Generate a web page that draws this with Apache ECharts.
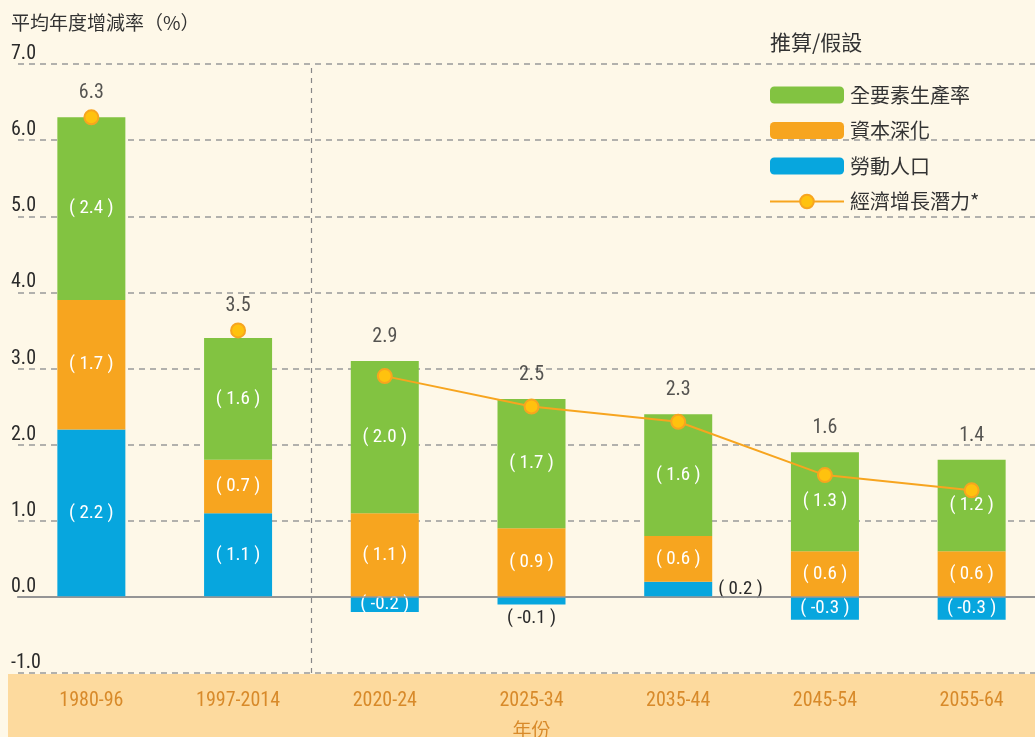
<!DOCTYPE html>
<html>
<head>
<meta charset="utf-8">
<script src="https://cdn.jsdelivr.net/npm/echarts@6/dist/echarts.min.js"></script>
<style>
  html, body { margin: 0; padding: 0; background: #fef8e8; }
  #chart { width: 1035px; height: 737px; }
</style>
</head>
<body>
<div id="chart"></div>
<script>
const periods = ['1980-96', '1997-2014', '2020-24', '2025-34', '2035-44', '2045-54', '2055-64']
const labour = [2.2, 1.1, -0.2, -0.1, 0.2, -0.3, -0.3]
const capital = [1.7, 0.7, 1.1, 0.9, 0.6, 0.6, 0.6]
const tfp = [2.4, 1.6, 2.0, 1.7, 1.6, 1.3, 1.2]
const potential = [6.3, 3.5, 2.9, 2.5, 2.3, 1.6, 1.4]
const firstProjected = 2 // 推算/假設 starts from 2020-24

const FONT = "'Roboto Condensed', 'Liberation Sans Narrow', 'DejaVu Sans Condensed', 'Noto Sans CJK TC', sans-serif"
const CJK = "'Noto Sans CJK TC', sans-serif"
const GREEN = '#82c341'
const ORANGE = '#f7a51f'
const BLUE = '#07a6de'
const DARK = '#2a2a2a'

const wrap = v => `( ${v.toFixed(1)} )`

// totals are written above the higher of the stack top and the dot
const labelAnchor = periods.map((_, i) =>
  Math.max(tfp[i] + capital[i] + Math.max(labour[i], 0), potential[i]))

const barLabel = {
  show: true,
  position: 'inside',
  color: '#fff',
  fontFamily: FONT,
  fontSize: 19,
  formatter: p => wrap(p.value)
}

// labour labels: a few sit outside the bar
const labourData = labour.map(v => {
  if (v === -0.1) return { value: v, label: { position: 'bottom', color: DARK, distance: 4 } }
  if (v > 0 && v < 0.5) return { value: v, label: { position: 'right', color: DARK, distance: 6 } }
  return v
})

const dot = {
  symbol: 'circle',
  symbolSize: 14,
  itemStyle: { color: '#ffc20e', borderColor: ORANGE, borderWidth: 2, opacity: 1 }
}

const chart = echarts.init(document.getElementById('chart'))

chart.setOption({
  animation: false,
  backgroundColor: '#fef8e8',
  textStyle: { fontFamily: FONT },
  graphic: [{
    type: 'rect',
    z: -10,
    left: 8,
    top: 674,
    shape: { width: 1030, height: 64 },
    style: { fill: '#fdda9e' }
  }],
  title: [{
    text: '平均年度增減率（%）',
    left: 6,
    top: 8,
    textStyle: { fontFamily: CJK, fontSize: 19, fontWeight: 'normal', color: '#333' }
  }, {
    text: '推算/假設',
    left: 765,
    top: 27,
    textStyle: { fontFamily: CJK, fontSize: 21, fontWeight: 'normal', color: '#333' }
  }],
  legend: {
    orient: 'vertical',
    left: 764,
    top: 80,
    itemWidth: 74,
    itemHeight: 17,
    itemGap: 15.5,
    textStyle: { fontFamily: CJK, fontSize: 20, lineHeight: 17, color: '#333', padding: [0, 0, 0, 1] },
    data: ['全要素生產率', '資本深化', '勞動人口', '經濟增長潛力*']
  },
  grid: { left: 18, width: 1027, top: 64, bottom: 64, outerBoundsMode: 'none' },
  xAxis: [{
    type: 'category',
    data: periods,
    axisLine: { lineStyle: { color: '#8a8a8a', width: 2 } },
    axisTick: { alignWithLabel: true, length: 6, lineStyle: { color: '#8a8a8a', width: 2 } },
    axisLabel: { color: '#d88a2a', fontSize: 20, margin: 18, fontFamily: FONT },
    name: '年份',
    nameLocation: 'middle',
    nameGap: 47,
    nameTextStyle: { color: '#d88a2a', fontSize: 19, fontFamily: CJK }
  }, {
    type: 'value',
    min: -0.5,
    max: periods.length - 0.5,
    show: false
  }],
  yAxis: {
    type: 'value',
    min: -1,
    max: 7,
    interval: 1,
    axisLine: { show: false },
    axisTick: { show: false },
    axisLabel: {
      inside: true,
      margin: -7,
      verticalAlign: 'bottom',
      color: DARK,
      fontSize: 20,
      fontFamily: FONT,
      formatter: v => v.toFixed(1)
    },
    splitLine: { lineStyle: { color: '#999', type: [6, 5], width: 1.5 } }
  },
  series: [
    {
      name: '勞動人口',
      type: 'bar',
      stack: 'total',
      barWidth: 68,
      itemStyle: { color: BLUE },
      label: barLabel,
      data: labourData,
      markLine: {
        silent: true,
        symbol: 'none',
        label: { show: false },
        lineStyle: { color: '#999', type: 'solid', width: 1.5 },
        data: [{ yAxis: 0 }]
      }
    },
    {
      name: '資本深化',
      type: 'bar',
      stack: 'total',
      itemStyle: { color: ORANGE },
      label: barLabel,
      data: capital
    },
    {
      name: '全要素生產率',
      type: 'bar',
      stack: 'total',
      itemStyle: { color: GREEN },
      label: barLabel,
      data: tfp
    },
    {
      name: '經濟增長潛力*',
      type: 'line',
      ...dot,
      lineStyle: { color: ORANGE, width: 2 },
      data: potential.map((v, i) => i >= firstProjected ? v : '-'),
      z: 5
    },
    {
      name: 'history',
      type: 'scatter',
      ...dot,
      data: potential.map((v, i) => i < firstProjected ? v : '-'),
      z: 5
    },
    {
      // totals written above each stack
      name: 'totals',
      type: 'scatter',
      symbolSize: 2,
      silent: true,
      itemStyle: { color: 'rgba(0,0,0,0)' },
      label: {
        show: true,
        position: 'top',
        distance: 13,
        color: DARK,
        fontFamily: FONT,
        fontSize: 20,
        formatter: p => potential[p.dataIndex].toFixed(1)
      },
      data: labelAnchor,
      z: 6
    },
    {
      // divider between actual and projected periods
      name: 'divider',
      type: 'line',
      xAxisIndex: 1,
      data: [],
      silent: true,
      markLine: {
        silent: true,
        symbol: 'none',
        label: { show: false },
        lineStyle: { color: '#888', type: [5, 5], width: 1.2 },
        data: [{ xAxis: firstProjected - 0.5 }]
      }
    }
  ]
})
</script>
</body>
</html>
